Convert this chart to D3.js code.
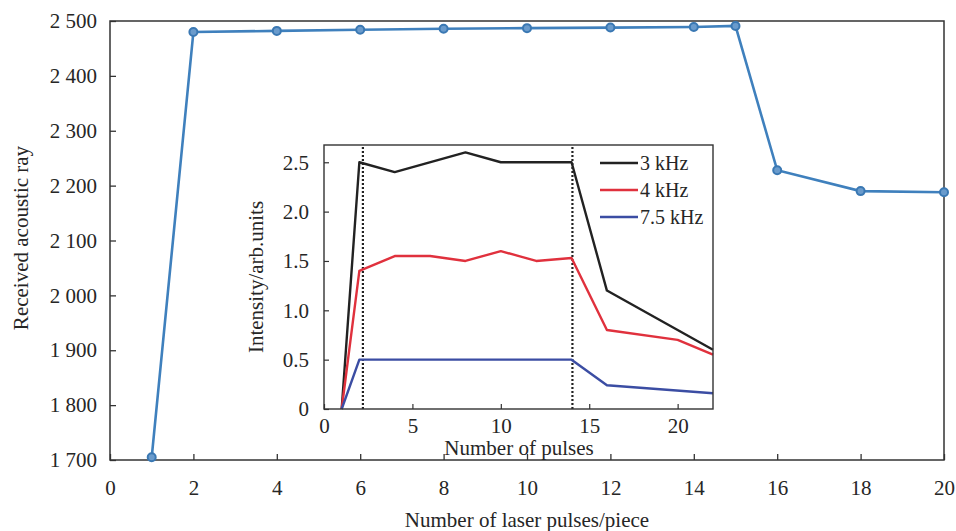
<!DOCTYPE html>
<html>
<head>
<meta charset="utf-8">
<script src="https://cdn.jsdelivr.net/npm/d3@7"></script>
<style>
  body { margin: 0; background: #fff; }
  svg text { font-family: "Liberation Serif", "DejaVu Serif", serif; fill: #262626; }
</style>
</head>
<body>
<svg id="chart" width="956" height="531"></svg>
<script>
// main series
const pulses = [1, 2, 4, 6, 8, 10, 12, 14, 15, 16, 18, 20];
const acoustic = [1705, 2480, 2482, 2484, 2486, 2487, 2488, 2489, 2491, 2228, 2190, 2188];
const mainXTicks = [0, 2, 4, 6, 8, 10, 12, 14, 16, 18, 20];
const mainYTicks = [1700, 1800, 1900, 2000, 2100, 2200, 2300, 2400, 2500];

// inset series
const f3x = [1, 2, 4, 8, 10, 14, 16, 22];
const f3y = [0, 2.5, 2.4, 2.6, 2.5, 2.5, 1.2, 0.6];
const f4x = [1, 2, 4, 6, 8, 10, 12, 14, 16, 20, 22];
const f4y = [0, 1.4, 1.55, 1.55, 1.5, 1.6, 1.5, 1.53, 0.8, 0.7, 0.55];
const f75x = [1, 2, 14, 16, 22];
const f75y = [0, 0.5, 0.5, 0.24, 0.16];
const markerLines = [2.2, 14.05];
const insetXTicks = [0, 5, 10, 15, 20];
const insetYTicks = [0, 0.5, 1.0, 1.5, 2.0, 2.5];
const legendNames = ["3 kHz", "4 kHz", "7.5 kHz"];
const legendColors = ["#222222", "#e0313d", "#3b4da3"];

const svg = d3.select("#chart");
const fmt = d3.formatLocale({decimal: ".", thousands: " ", grouping: [3], currency: ["", ""]}).format(",");

// ---- main chart ----
const m = {left: 110, right: 944, top: 21, bottom: 460};
const x = d3.scaleLinear().domain([0, 20]).range([m.left, m.right]);
const y = d3.scaleLinear().domain([1700, 2500]).range([m.bottom, m.top]);

svg.append("g")
    .attr("transform", `translate(0,${m.bottom})`)
    .call(d3.axisBottom(x).tickValues(mainXTicks).tickSize(-6).tickPadding(20))
    .call(g => g.select(".domain").remove())
    .selectAll("text").style("font-size", "21px");

svg.append("g")
    .attr("transform", `translate(${m.left},0)`)
    .call(d3.axisLeft(y).tickValues(mainYTicks).tickFormat(fmt).tickSize(-6).tickPadding(13))
    .call(g => g.select(".domain").remove())
    .selectAll("text").style("font-size", "21px");

svg.selectAll(".tick line").attr("stroke", "#333").attr("stroke-width", 1.3);

svg.append("rect")
    .attr("x", m.left).attr("y", m.top)
    .attr("width", m.right - m.left).attr("height", m.bottom - m.top)
    .attr("fill", "none").attr("stroke", "#333").attr("stroke-width", 1.5);

const mainData = pulses.map((p, i) => [p, acoustic[i]]);
svg.append("path")
    .datum(mainData)
    .attr("fill", "none")
    .attr("stroke", "#3f80bd")
    .attr("stroke-width", 2.6)
    .attr("d", d3.line().x(d => x(d[0])).y(d => y(d[1])));

svg.selectAll(".pt")
    .data(mainData)
    .enter().append("circle")
    .attr("class", "pt")
    .attr("cx", d => x(d[0]))
    .attr("cy", d => y(d[1]))
    .attr("r", 4)
    .attr("fill", "#6a9bcc")
    .attr("stroke", "#3a78b3")
    .attr("stroke-width", 2);

svg.append("text")
    .attr("x", 527)
    .attr("y", 527)
    .attr("text-anchor", "middle")
    .style("font-size", "21px")
    .text("Number of laser pulses/piece");

svg.append("text")
    .attr("transform", "translate(28,238) rotate(-90)")
    .attr("text-anchor", "middle")
    .style("font-size", "21px")
    .text("Received acoustic ray");

// ---- inset ----
const ins = {left: 324, right: 713, top: 145, bottom: 409};
const ix = d3.scaleLinear().domain([0, 22]).range([ins.left, ins.right]);
const iy = d3.scaleLinear().domain([0, 2.675]).range([ins.bottom, ins.top]);

const inset = svg.append("g");
inset.append("rect")
    .attr("x", ins.left).attr("y", ins.top)
    .attr("width", ins.right - ins.left).attr("height", ins.bottom - ins.top)
    .attr("fill", "#fff");

inset.append("g")
    .attr("transform", `translate(0,${ins.bottom})`)
    .call(d3.axisBottom(ix).tickValues(insetXTicks).tickSize(-5).tickPadding(9))
    .call(g => g.select(".domain").remove())
    .selectAll("text").style("font-size", "21px");

inset.append("g")
    .attr("transform", `translate(${ins.left},0)`)
    .call(d3.axisLeft(iy).tickValues(insetYTicks).tickFormat(d => d === 0 ? "0" : d3.format(".1f")(d)).tickSize(-5).tickPadding(15))
    .call(g => g.select(".domain").remove())
    .selectAll("text").style("font-size", "21px");

inset.selectAll(".tick line").attr("stroke", "#333").attr("stroke-width", 1.2);

inset.selectAll(".vline")
    .data(markerLines)
    .enter().append("line")
    .attr("x1", d => ix(d)).attr("x2", d => ix(d))
    .attr("y1", ins.top + 2).attr("y2", ins.bottom)
    .attr("stroke", "#222")
    .attr("stroke-width", 2.2)
    .attr("stroke-dasharray", "2,2");

const iline = d3.line().x(d => ix(d[0])).y(d => iy(d[1]));
const insetSeries = [
    f3x.map((v, i) => [v, f3y[i]]),
    f4x.map((v, i) => [v, f4y[i]]),
    f75x.map((v, i) => [v, f75y[i]])
];
inset.selectAll(".series")
    .data(insetSeries)
    .enter().append("path")
    .attr("fill", "none")
    .attr("stroke", (d, i) => legendColors[i])
    .attr("stroke-width", 2.4)
    .attr("stroke-linejoin", "round")
    .attr("d", iline);

inset.append("rect")
    .attr("x", ins.left).attr("y", ins.top)
    .attr("width", ins.right - ins.left).attr("height", ins.bottom - ins.top)
    .attr("fill", "none").attr("stroke", "#333").attr("stroke-width", 1.4);

const leg = inset.selectAll(".leg")
    .data(legendNames)
    .enter().append("g")
    .attr("transform", (d, i) => `translate(600,${163 + i * 27})`);
leg.append("line")
    .attr("x1", 0).attr("x2", 38)
    .attr("stroke", (d, i) => legendColors[i])
    .attr("stroke-width", 2.6);
leg.append("text")
    .attr("x", 40).attr("y", 7)
    .style("font-size", "20px")
    .text(d => d);

inset.append("text")
    .attr("x", 519).attr("y", 455)
    .attr("text-anchor", "middle")
    .style("font-size", "21px")
    .text("Number of pulses");

inset.append("text")
    .attr("transform", "translate(263,277) rotate(-90)")
    .attr("text-anchor", "middle")
    .style("font-size", "21px")
    .text("Intensity/arb.units");
</script>
</body>
</html>
